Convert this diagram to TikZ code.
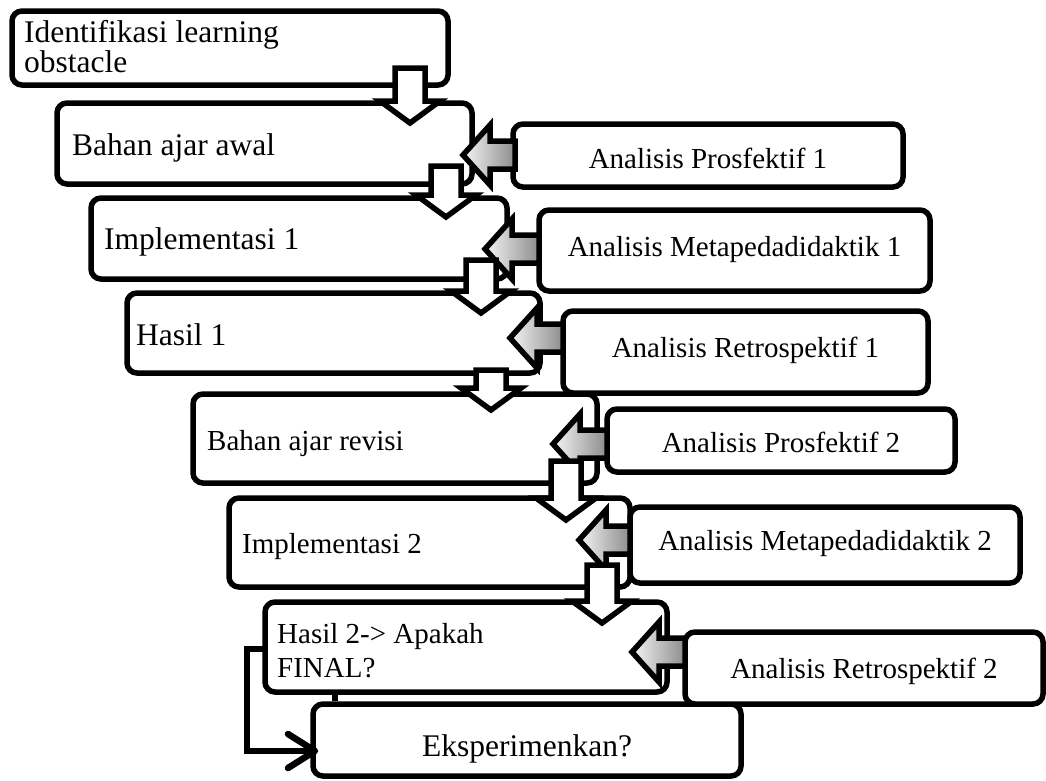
\documentclass[tikz,border=0pt]{standalone}
\usepackage{fontspec}
\setmainfont{Liberation Serif}
\usetikzlibrary{arrows.meta}
\begin{document}
\begin{tikzpicture}[x=1pt,y=-1pt,
  box/.style={draw, line width=5.5pt, rounded corners=10pt, fill=white, inner sep=0pt},
  lbl/.style={inner sep=0pt, anchor=base west},
  lblbig/.style={lbl, font=\fontsize{31.5}{36}\selectfont},
  lblsm/.style={lbl, font=\fontsize{29}{33}\selectfont},
  albl/.style={inner sep=0pt, anchor=base, font=\fontsize{29}{33}\selectfont},
  blk/.style={draw, line width=5.5pt, line join=miter, fill=white},
  blkshade/.style={draw, line width=5.5pt, line join=miter, left color=black!4, right color=black!45},
  pics/downarrow/.style={code={\path[blk] (-15,0) -- (15,0) -- (15,{#1-22}) -- (30,{#1-22}) -- (0,#1) -- (-30,{#1-22}) -- (-15,{#1-22}) -- cycle;}},
  pics/leftarrow/.style={code={\path[blkshade] (0,0) -- (27,-30) -- (27,-14) -- (#1,-14) -- (#1,14) -- (27,14) -- (27,30) -- cycle;}},
  conn/.style={draw=black, line width=6.5pt, line join=miter}
]
\useasboundingbox (0,0) rectangle (1046,780);
% left column boxes
\node[box, minimum width=436pt, minimum height=74pt] (b1) at (230,48) {};
\node[box, minimum width=415pt, minimum height=81pt] (b2) at (264.5,143.5) {};
\node[box, minimum width=416pt, minimum height=81pt] (b3) at (299,238.5) {};
\node[box, minimum width=413pt, minimum height=80pt] (b4) at (333.5,333) {};
\node[box, minimum width=404pt, minimum height=89pt] (b5) at (395,438.5) {};
\node[box, minimum width=401pt, minimum height=89pt] (b6) at (429.5,542.5) {};
\node[box, minimum width=402pt, minimum height=90pt] (b7) at (466,647) {};
\node[box, minimum width=428pt, minimum height=72pt] (b8) at (527,740) {};
% right column boxes
\node[box, minimum width=390pt, minimum height=63pt] (a1) at (708,155.5) {};
\node[box, minimum width=391pt, minimum height=81pt] (a2) at (734.5,250.5) {};
\node[box, minimum width=365pt, minimum height=82pt] (a3) at (745.5,352) {};
\node[box, minimum width=348pt, minimum height=63pt] (a4) at (781,440.5) {};
\node[box, minimum width=390pt, minimum height=76pt] (a5) at (825,545) {};
\node[box, minimum width=358pt, minimum height=72pt] (a6) at (864,668) {};
% labels
\node[lblbig] (t1a) at (24,42) {Identifikasi learning};
\node[lblbig] (t1b) at (24,72) {obstacle};
\node[lblbig] (t2) at (72,155) {Bahan ajar awal};
\node[lblbig] (t3) at (104,249) {Implementasi 1};
\node[lblbig] (t4) at (136,345) {Hasil 1};
\node[lblsm] (t5) at (207,450) {Bahan ajar revisi};
\node[lblsm] (t6) at (242,553) {Implementasi 2};
\node[lblsm] (t7a) at (277,643) {Hasil 2-> Apakah};
\node[lblsm] (t7b) at (277,677) {FINAL?};
\node[albl, font=\fontsize{31.5}{36}\selectfont] (t8) at (527,756) {Eksperimenkan?};
\node[albl] (ta1) at (708,168) {Analisis Prosfektif 1};
\node[albl] (ta2) at (734.5,256) {Analisis Metapedadidaktik 1};
\node[albl] (ta3) at (745.5,357) {Analisis Retrospektif 1};
\node[albl] (ta4) at (781,452) {Analisis Prosfektif 2};
\node[albl] (ta5) at (825,550) {Analisis Metapedadidaktik 2};
\node[albl] (ta6) at (864,678) {Analisis Retrospektif 2};
% left block arrows
\pic at (463,155) {leftarrow=52};
\pic at (485,249) {leftarrow=54};
\pic at (510,338) {leftarrow=53};
\pic at (553,444) {leftarrow=54};
\pic at (579,540) {leftarrow=51};
\pic at (632,652) {leftarrow=53};
% down block arrows
\pic at (410,68) {downarrow=55};
\pic at (446,166) {downarrow=51};
\pic at (481,260) {downarrow=53};
\pic at (491,370) {downarrow=40};
\pic at (566,461) {downarrow=59};
\pic at (602,565) {downarrow=58};
% feedback connector
\coordinate (fa) at (265,649);
\coordinate (fb) at (247,751);
\coordinate (fc) at (315,751);
\path[conn] (fa) -| (fb) -- (fc);
\draw[line width=6.5pt, line cap=round, line join=round] (288,734) -- (fc) -- (288,768);
\coordinate (s1) at (335,692);
\draw[conn, line width=5.5pt] (s1) -- (s1 |- b8.north);
\end{tikzpicture}
\end{document}
